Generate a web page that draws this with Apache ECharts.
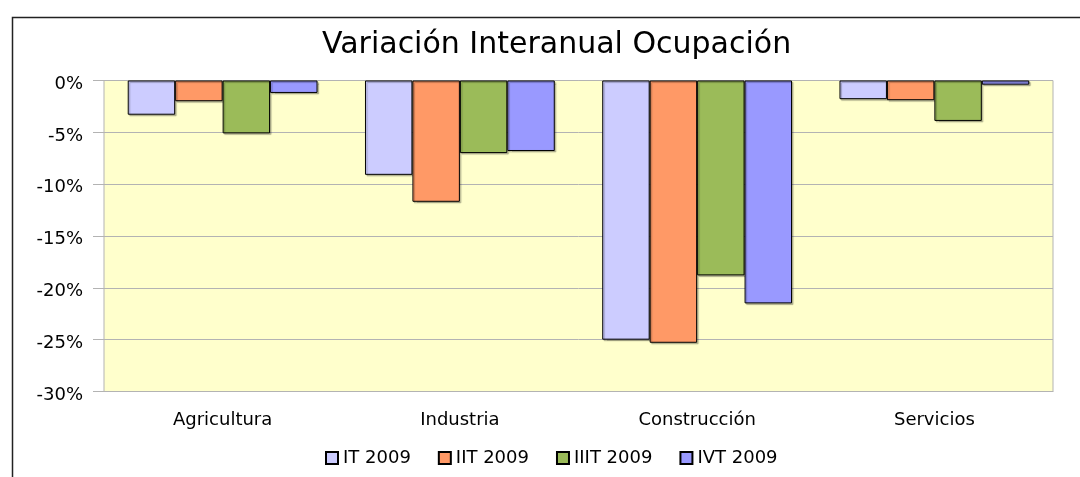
<!DOCTYPE html>
<html>
<head>
<meta charset="utf-8">
<script src="https://cdn.jsdelivr.net/npm/echarts@6/dist/echarts.min.js"></script>
<style>
  html, body { margin: 0; padding: 0; background: #fff; }
  #chart { width: 1080px; height: 477px; }
</style>
</head>
<body>
<div id="chart"></div>
<script>
const categories = ['Agricultura', 'Industria', 'Construcción', 'Servicios']
const seriesNames = ['IT 2009', 'IIT 2009', 'IIIT 2009', 'IVT 2009']
const it2009 = [-3.3, -9.1, -25.0, -1.8]
const iit2009 = [-2.0, -11.7, -25.3, -1.9]
const iiit2009 = [-5.1, -7.0, -18.8, -3.9]
const ivt2009 = [-1.2, -6.8, -21.5, -0.4]
const colors = ['#CCCCFF', '#FF9966', '#9BBB59', '#9999FF']

const font = 'DejaVu Sans'
const chart = echarts.init(document.getElementById('chart'))

const values = [it2009, iit2009, iiit2009, ivt2009]

chart.setOption({
  animation: false,
  title: {
    text: 'Variación Interanual Ocupación',
    left: 317,
    top: 25,
    textStyle: { fontFamily: font, fontSize: 30, fontWeight: 'normal', color: '#000' }
  },
  graphic: [{
    type: 'rect',
    shape: { x: 12.5, y: 17.5, width: 1200, height: 600 },
    style: { fill: 'none', stroke: '#222', lineWidth: 1.5 },
    silent: true
  }],
  legend: {
    data: seriesNames,
    bottom: 5,
    left: 320,
    itemWidth: 12,
    itemHeight: 12,
    itemGap: 27,
    icon: 'rect',
    textStyle: { fontFamily: font, fontSize: 18, color: '#000' }
  },
  grid: {
    left: 104,
    right: 27,
    top: 80.5,
    bottom: 85.5,
    show: true,
    backgroundColor: '#FFFFCC',
    borderColor: '#B3B3B3',
    borderWidth: 1
  },
  xAxis: {
    type: 'category',
    data: categories,
    axisLine: { onZero: false, lineStyle: { color: '#B3B3B3' } },
    axisTick: { alignWithLabel: true, length: 9, lineStyle: { color: '#B3B3B3' } },
    axisLabel: { margin: 20, fontFamily: font, fontSize: 18, color: '#000' }
  },
  yAxis: {
    type: 'value',
    min: -30,
    max: 0,
    interval: 5,
    axisLine: { show: false },
    axisTick: { show: true, length: 11, lineStyle: { color: '#B3B3B3' } },
    axisLabel: {
      margin: 21,
      verticalAlign: 'top',
      lineHeight: 7,
      fontFamily: font,
      fontSize: 18,
      color: '#000',
      formatter: v => v + '%'
    },
    splitLine: { lineStyle: { color: '#B3B3B3' } }
  },
  series: seriesNames.map((name, i) => ({
    name,
    type: 'bar',
    data: values[i],
    barGap: 0,
    barCategoryGap: '20%',
    itemStyle: {
      color: colors[i],
      borderColor: '#000',
      borderWidth: 1,
      shadowColor: 'rgba(0,0,0,0.25)',
      shadowOffsetX: 1.5,
      shadowOffsetY: 1.5,
      shadowBlur: 1
    }
  }))
})
</script>
</body>
</html>
